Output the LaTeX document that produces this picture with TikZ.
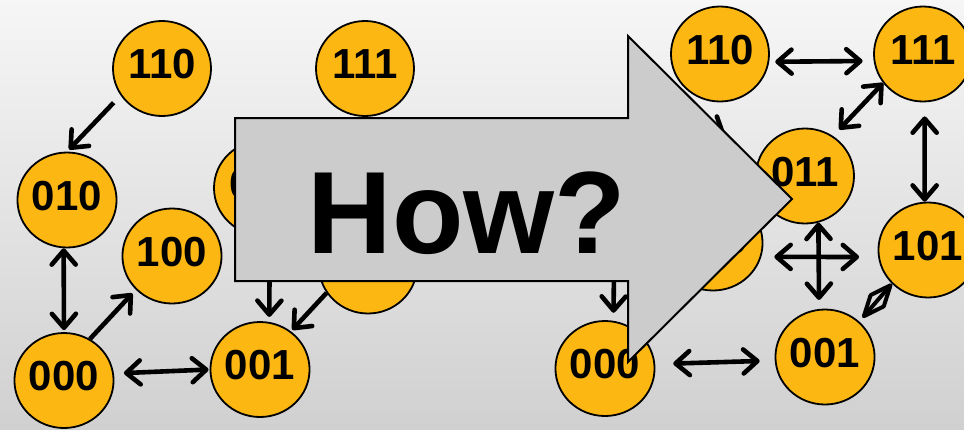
\documentclass[tikz,border=0pt]{standalone}
\usepackage{fontspec}
\setmainfont{Liberation Sans}
\usetikzlibrary{arrows.meta,shapes.geometric}
\definecolor{stfill}{RGB}{253,183,19}
\definecolor{bgtop}{RGB}{246,246,246}
\definecolor{bgbot}{RGB}{208,208,208}
\definecolor{bigarrow}{RGB}{204,204,204}
\begin{document}
\begin{tikzpicture}[x=1pt,y=-1pt,
  st/.style={ellipse, draw=black, line width=1.8pt, fill=stfill,
    minimum width=98pt, minimum height=95pt, inner sep=0pt,
    font=\bfseries\fontsize{42}{42}\selectfont, text height=30pt, text depth=10pt},
  >={Straight Barb[length=14pt,width=24pt,round]},
  arrowone/.style={->, line width=4.6pt},
  arrowtwo/.style={<->, line width=4.6pt},
  smalltwo/.style={{Straight Barb[length=20pt,width=17pt,round]}-{Straight Barb[length=20pt,width=17pt,round]}, line width=4pt},
  bigarrowstyle/.style={draw=black, line width=2pt, fill=bigarrow, line join=miter}]
\useasboundingbox (0,0) rectangle (964,429);
\shade[top color=bgtop, bottom color=bgbot] (0,0) rectangle (964,429);

% left graph
\node[st] (L110) at (162,68.5) {110};
\node[st] (L111) at (365,68.5) {111};
\node[st] (L010) at (67,200) {010};
\node[st] (L100) at (172,256) {100};
\node[st] (L000) at (64,380.5) {000};
\node[st] (L001) at (260,369.5) {001};
\node[st] (L011) at (263,188) {011};
\node[st] (L101) at (368,266) {};

\draw[arrowone, shorten <=10pt, shorten >=3pt] (L110.213) -- (L010.90);
\draw[arrowtwo, shorten >=2pt] (L010.266) -- (L000.90);
\draw[arrowone, shorten >=5pt] (L000.58) -- (L100.223);
\draw[arrowtwo, shorten <=10pt, shorten >=1pt] (L000.8) -- (L001.180);
\draw[arrowone, shorten >=5pt] (L011.278) -- (L001.79);
\draw[arrowone, shorten >=2pt] (L101.213) -- (L001.51);

% right graph
\node[st] (R110) at (720,54) {110};
\node[st] (R111) at (923,54) {111};
\node[st] (R011) at (805,176) {011};
\node[st] (R101) at (928,250) {101};
\node[st] (R001) at (825,357) {001};
\node[st] (R000) at (605,368.5) {000};
\node[st] (R100) at (713,243) {100};
\coordinate (r010) at (615,186);
\coordinate (hidA) at (640,86);
\coordinate (hidB) at (725,135);

\draw[arrowtwo, shorten <=6pt, shorten >=11pt] (R110.351) -- (R111.188);
\draw[arrowtwo, shorten >=9pt] (R111.216) -- (R011.55);
\draw[arrowtwo, shorten <=14pt] (R111.272) -- (R101.94);
\draw[arrowtwo, shorten >=9pt] (R011.286) -- (R001.97);
\draw[arrowtwo, shorten <=13pt, shorten >=19pt] (R100.344) -- (R101.188);
\draw[smalltwo, shorten <=5pt] (R001.46) -- (R101.223);
\draw[arrowtwo, shorten <=18pt, shorten >=15pt] (R000.5) -- (R001.184);
\draw[arrowone, shorten >=8pt] (r010) -- (R000.80);
\draw[arrowone] (hidA) -- (hidB);

% big arrow
\draw[bigarrowstyle] (235,118) -- (628,118) -- (628,36) -- (792,199) -- (628,362) -- (628,281) -- (235,281) -- cycle;
\node[anchor=base, inner sep=0pt, font=\bfseries\fontsize{117}{117}\selectfont] (how) at (467,253) {How?};
\end{tikzpicture}
\end{document}
